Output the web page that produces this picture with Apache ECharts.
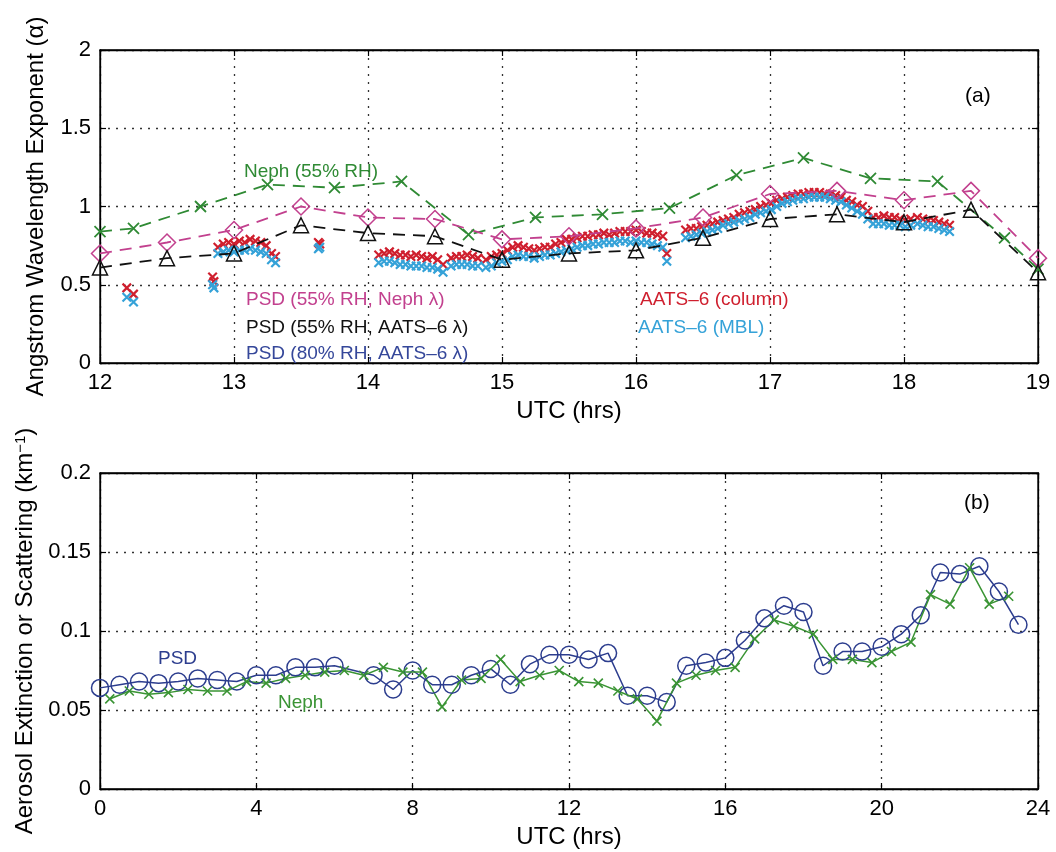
<!DOCTYPE html>
<html>
<head>
<meta charset="utf-8">
<script src="https://cdn.jsdelivr.net/npm/echarts@6/dist/echarts.min.js"></script>
<style>
html,body{margin:0;padding:0;background:#fff;}
#chart{width:1056px;height:852px;}
</style>
</head>
<body>
<div id="chart"></div>
<script>
// ---------------- Panel (a) data ----------------
const nephTime = [12.0, 12.25, 12.75, 13.25, 13.75, 14.25, 14.75, 15.25, 15.75, 16.25, 16.75, 17.25, 17.75, 18.25, 18.75, 19.0];
const nephAlpha = [0.84, 0.86, 1.00, 1.14, 1.12, 1.16, 0.82, 0.93, 0.95, 0.99, 1.20, 1.31, 1.18, 1.16, 0.80, 0.60];

const psdTime = [12.0, 12.5, 13.0, 13.5, 14.0, 14.5, 15.0, 15.5, 16.0, 16.5, 17.0, 17.5, 18.0, 18.5, 19.0];
const psdNephLambda = [0.70, 0.77, 0.85, 1.00, 0.93, 0.92, 0.79, 0.81, 0.86, 0.93, 1.08, 1.10, 1.04, 1.10, 0.67];
const psdAatsLambda = [0.61, 0.67, 0.70, 0.88, 0.83, 0.81, 0.66, 0.70, 0.72, 0.80, 0.92, 0.95, 0.90, 0.98, 0.58];

const aatsTime = [
  12.20, 12.25, 12.84, 12.85,
  12.88, 12.92, 12.96, 13.00, 13.04, 13.08, 13.12, 13.16, 13.20, 13.24, 13.28, 13.31,
  13.63, 13.64,
  14.08, 14.12, 14.16, 14.20, 14.24, 14.28, 14.32, 14.36, 14.40, 14.44, 14.48, 14.52, 14.56,
  14.62, 14.66, 14.70, 14.74, 14.78, 14.82, 14.88, 14.92, 14.96, 15.00, 15.04, 15.08, 15.12, 15.16, 15.20, 15.24,
  15.28, 15.32, 15.36, 15.40, 15.44, 15.48, 15.52, 15.56, 15.60, 15.64, 15.68, 15.72, 15.76, 15.80, 15.84, 15.88,
  15.92, 15.96, 16.00, 16.04, 16.08, 16.12, 16.16, 16.20, 16.23,
  16.37, 16.41, 16.45, 16.49, 16.53, 16.57, 16.61, 16.65, 16.69, 16.73, 16.77, 16.81, 16.85, 16.89, 16.93, 16.97,
  17.01, 17.05, 17.09, 17.13, 17.17, 17.21, 17.25, 17.29, 17.33, 17.37, 17.41, 17.45, 17.49, 17.53, 17.57, 17.61,
  17.65, 17.69, 17.73, 17.77, 17.81, 17.85, 17.89, 17.93, 17.97, 18.01, 18.05, 18.10, 18.14, 18.18, 18.22, 18.26,
  18.30, 18.34
];
const aatsColumn = [
  0.48, 0.44, 0.55, 0.52,
  0.74, 0.76, 0.77, 0.76, 0.78, 0.77, 0.79, 0.78, 0.77, 0.75, 0.70, 0.68,
  0.77, 0.76,
  0.69, 0.70, 0.71, 0.70, 0.69, 0.69, 0.68, 0.69, 0.68, 0.67, 0.68, 0.66, 0.63,
  0.67, 0.68, 0.68, 0.69, 0.68, 0.67, 0.66, 0.68, 0.69, 0.70, 0.72, 0.74, 0.75, 0.74, 0.73, 0.72,
  0.73, 0.74, 0.74, 0.76, 0.77, 0.79, 0.79, 0.80, 0.81, 0.81, 0.82, 0.82, 0.83, 0.82, 0.83, 0.84,
  0.84, 0.84, 0.85, 0.84, 0.83, 0.83, 0.82, 0.81, 0.70,
  0.85, 0.86, 0.86, 0.87, 0.88, 0.89, 0.90, 0.91, 0.92, 0.93, 0.95, 0.96, 0.97, 0.98, 1.00, 1.01,
  1.02, 1.04, 1.05, 1.06, 1.07, 1.08, 1.08, 1.09, 1.09, 1.09, 1.08, 1.08, 1.07, 1.06, 1.04, 1.03,
  1.01, 1.00, 0.97, 0.93, 0.93, 0.94, 0.93, 0.93, 0.92, 0.91, 0.92, 0.93, 0.92, 0.91, 0.91, 0.90,
  0.89, 0.88
];
const aatsMBL = [
  0.42, 0.39, 0.50, 0.48,
  0.70, 0.71, 0.72, 0.71, 0.72, 0.72, 0.73, 0.72, 0.71, 0.70, 0.66, 0.64,
  0.73, 0.74,
  0.64, 0.65, 0.65, 0.64, 0.63, 0.63, 0.62, 0.62, 0.62, 0.61, 0.61, 0.60, 0.58,
  0.62, 0.63, 0.63, 0.63, 0.62, 0.62, 0.61, 0.62, 0.64, 0.65, 0.66, 0.68, 0.69, 0.68, 0.68, 0.67,
  0.68, 0.69, 0.69, 0.70, 0.71, 0.72, 0.73, 0.74, 0.75, 0.75, 0.76, 0.76, 0.77, 0.77, 0.77, 0.78,
  0.78, 0.77, 0.78, 0.77, 0.77, 0.76, 0.75, 0.74, 0.65,
  0.80, 0.81, 0.82, 0.83, 0.84, 0.85, 0.86, 0.88, 0.89, 0.90, 0.91, 0.92, 0.93, 0.95, 0.96, 0.97,
  0.98, 1.00, 1.02, 1.03, 1.04, 1.05, 1.05, 1.06, 1.06, 1.06, 1.06, 1.05, 1.04, 1.03, 1.01, 0.99,
  0.97, 0.95, 0.92, 0.89, 0.89, 0.89, 0.88, 0.88, 0.88, 0.87, 0.88, 0.89, 0.88, 0.87, 0.87, 0.86,
  0.85, 0.84
];

// ---------------- Panel (b) data ----------------
const psdExtTime = [0, 0.5, 1, 1.5, 2, 2.5, 3, 3.5, 4, 4.5, 5, 5.5, 6, 7, 7.5, 8, 8.5, 9, 9.5, 10, 10.5, 11, 11.5, 12,
  12.5, 13, 13.5, 14, 14.5, 15, 15.5, 16, 16.5, 17, 17.5, 18, 18.5, 19, 19.5, 20, 20.5, 21, 21.5, 22, 22.5, 23, 23.5];
const psdExt = [0.064, 0.066, 0.068, 0.067, 0.068, 0.070, 0.069, 0.068, 0.072, 0.072, 0.077, 0.077, 0.078, 0.072, 0.063,
  0.075, 0.066, 0.066, 0.072, 0.076, 0.066, 0.079, 0.085, 0.085, 0.082, 0.086, 0.059, 0.059, 0.055, 0.078, 0.080,
  0.083, 0.094, 0.108, 0.116, 0.112, 0.078, 0.087, 0.087, 0.090, 0.098, 0.110, 0.137, 0.136, 0.141, 0.125, 0.104];

const nephScatTime = [0.25, 0.75, 1.25, 1.75, 2.25, 2.75, 3.25, 3.75, 4.25, 4.75, 5.25, 5.75, 6.25, 6.75, 7.25, 7.75,
  8.25, 8.75, 9.25, 9.75, 10.25, 10.75, 11.25, 11.75, 12.25, 12.75, 13.25, 13.75, 14.25, 14.75, 15.25, 15.75, 16.25,
  16.75, 17.25, 17.75, 18.25, 18.75, 19.25, 19.75, 20.25, 20.75, 21.25, 21.75, 22.25, 22.75, 23.25];
const nephScat = [0.057, 0.062, 0.060, 0.061, 0.063, 0.062, 0.062, 0.068, 0.067, 0.070, 0.072, 0.074, 0.075, 0.072,
  0.077, 0.074, 0.074, 0.052, 0.069, 0.070, 0.082, 0.068, 0.072, 0.075, 0.068, 0.067, 0.062, 0.057, 0.043, 0.067,
  0.072, 0.075, 0.077, 0.095, 0.107, 0.103, 0.098, 0.082, 0.082, 0.080, 0.087, 0.093, 0.123, 0.117, 0.140, 0.117, 0.122];

const xTicksA = [12, 13, 14, 15, 16, 17, 18, 19];
const xTicksB = [0, 4, 8, 12, 16, 20, 24];

// ---------------- helpers ----------------
const zip = (xs, ys) => xs.map((x, i) => [x, ys[i]]);
const FONT = 'Liberation Sans, Arial, Helvetica, sans-serif';
const X_SYM = 'path://M0,0L10,10M10,0L0,10';
const C = {
  neph: '#2f8a34', psdNeph: '#c2408e', black: '#111111', psd80: '#35479a',
  red: '#cf1f2e', cyan: '#35a2d8', navy: '#2c3d8e', green: '#3a9434'
};
const gridDots = { show: true, lineStyle: { color: '#333', width: 1.3, type: [2, 6] } };
const axLine = { show: true, onZero: false, lineStyle: { color: '#000', width: 1.3 } };
const tick = { show: true, inside: true, length: 6, lineStyle: { color: '#000', width: 1.2 } };
const lab = { color: '#000', fontSize: 22, fontFamily: FONT };

function xAx(grid, min, max, interval, pos, main) {
  return {
    type: 'value', gridIndex: grid, min, max, interval, position: pos,
    axisLine: axLine, axisTick: tick,
    axisLabel: main ? Object.assign({ margin: 9 }, lab) : { show: false },
    splitLine: main ? gridDots : { show: false },
    name: main ? 'UTC (hrs)' : '', nameLocation: 'middle', nameGap: 36,
    nameTextStyle: { color: '#000', fontSize: 24, fontFamily: FONT }
  };
}
function yAx(grid, min, max, interval, pos, main, name, gap, rich) {
  return {
    type: 'value', gridIndex: grid, min, max, interval, position: pos,
    axisLine: axLine, axisTick: tick,
    axisLabel: main ? Object.assign({ margin: 9 }, lab) : { show: false },
    splitLine: main ? gridDots : { show: false },
    name: main ? name : '', nameLocation: 'middle', nameGap: gap,
    nameTextStyle: { color: '#000', fontSize: 24, fontFamily: FONT, rich: rich || {} }
  };
}

function dashedLine(name, xs, ys, color, symbol, size, xIdx, yIdx) {
  const isX = symbol === X_SYM;
  return {
    name, type: 'line', xAxisIndex: xIdx, yAxisIndex: yIdx, data: zip(xs, ys),
    symbol, symbolSize: size, showSymbol: true,
    lineStyle: { color, width: 1.8, type: [12, 8] },
    itemStyle: { color: isX ? color : 'rgba(0,0,0,0)', borderColor: color, borderWidth: isX ? 1.8 : 1.5 },
    z: 5, animation: false
  };
}
function solidLine(name, xs, ys, color, symbol, size, bw, xIdx, yIdx) {
  const isX = symbol === X_SYM;
  return {
    name, type: 'line', xAxisIndex: xIdx, yAxisIndex: yIdx, data: zip(xs, ys),
    symbol, symbolSize: size, showSymbol: true,
    lineStyle: { color, width: 1.5 },
    itemStyle: { color: isX ? color : 'rgba(0,0,0,0)', borderColor: color, borderWidth: bw },
    animation: false
  };
}
function dense(name, xs, ys, color) {
  return {
    name, type: 'scatter', xAxisIndex: 0, yAxisIndex: 0, data: zip(xs, ys),
    symbol: X_SYM, symbolSize: 8.5,
    itemStyle: { color: color, borderColor: color, borderWidth: 2.2, opacity: 1 },
    z: 3, animation: false
  };
}

function txt(text, left, top, color, size) {
  return {
    type: 'text', left, top, z: 100,
    style: { text, fill: color, fontSize: size || 19, fontFamily: FONT }
  };
}

const option = {
  backgroundColor: '#ffffff',
  animation: false,
  grid: [
    { left: 100, top: 50, width: 938, height: 313, show: true, borderColor: '#000', borderWidth: 1.3, backgroundColor: 'transparent' },
    { left: 100, top: 473, width: 938, height: 316, show: true, borderColor: '#000', borderWidth: 1.3, backgroundColor: 'transparent' }
  ],
  xAxis: [
    xAx(0, 12, 19, 1, 'bottom', true),
    xAx(0, 12, 19, 1, 'top', false),
    xAx(1, 0, 24, 4, 'bottom', true),
    xAx(1, 0, 24, 4, 'top', false)
  ],
  yAxis: [
    yAx(0, 0, 2, 0.5, 'left', true, 'Angstrom Wavelength Exponent (\u03b1)', 52),
    yAx(0, 0, 2, 0.5, 'right', false),
    yAx(1, 0, 0.2, 0.05, 'left', true, 'Aerosol Extinction or Scattering (km{sup|\u22121})', 60,
        { sup: { fontSize: 15, verticalAlign: 'top', fontFamily: FONT, color: '#000' } }),
    yAx(1, 0, 0.2, 0.05, 'right', false)
  ],
  series: [
    dense('AATS-6 (column)', aatsTime, aatsColumn, C.red),
    dense('AATS-6 (MBL)', aatsTime, aatsMBL, C.cyan),
    dashedLine('Neph (55% RH)', nephTime, nephAlpha, C.neph, X_SYM, 11, 0, 0),
    dashedLine('PSD (55% RH, Neph \u03bb)', psdTime, psdNephLambda, C.psdNeph, 'diamond', 17, 0, 0),
    dashedLine('PSD (55% RH, AATS-6 \u03bb)', psdTime, psdAatsLambda, C.black, 'triangle', 15, 0, 0),
    solidLine('PSD', psdExtTime, psdExt, C.navy, 'circle', 17, 1.5, 2, 2),
    solidLine('Neph', nephScatTime, nephScat, C.green, X_SYM, 9, 1.6, 2, 2)
  ],
  graphic: [
    txt('(a)', 965, 86, '#000', 21),
    txt('Neph (55% RH)', 244, 162, C.neph),
    txt('PSD (55% RH, Neph \u03bb)', 246, 290, C.psdNeph),
    txt('PSD (55% RH, AATS\u20136 \u03bb)', 246, 318, C.black),
    txt('PSD (80% RH, AATS\u20136 \u03bb)', 246, 344, C.psd80),
    txt('AATS\u20136 (column)', 640, 290, C.red),
    txt('AATS\u20136 (MBL)', 638, 318, C.cyan),
    txt('(b)', 964, 493, '#000', 21),
    txt('PSD', 158, 649, C.navy),
    txt('Neph', 278, 693, C.green)
  ]
};

const chart = echarts.init(document.getElementById('chart'), null, { renderer: 'canvas' });
chart.setOption(option);
</script>
</body>
</html>
